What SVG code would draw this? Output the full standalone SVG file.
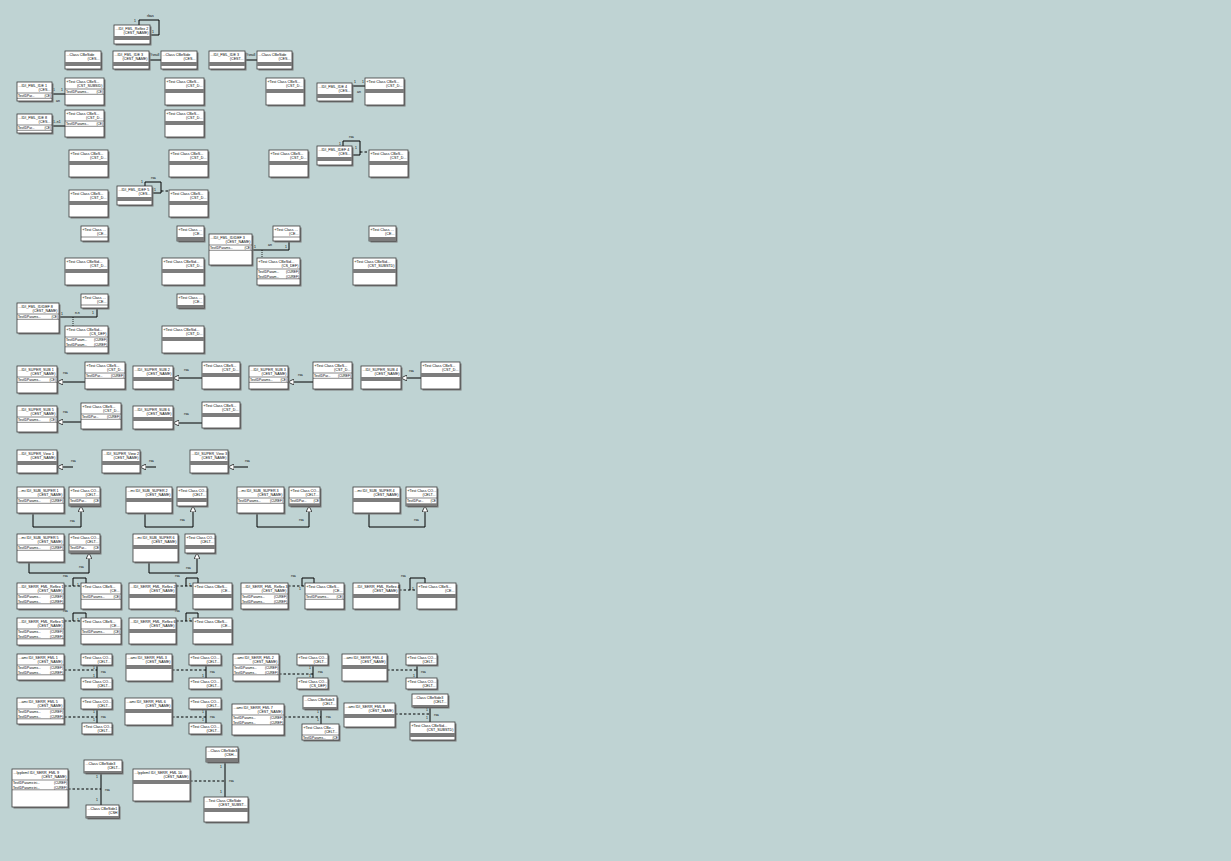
<svg xmlns="http://www.w3.org/2000/svg" width="1231" height="861" viewBox="0 0 1231 861">
<style>
.sh{fill:#7a7a7a}
.bx{fill:#fff;stroke:#3a3a3a;stroke-width:0.8}
.band{fill:#7d7d7d}
.sep{stroke:#3a3a3a;stroke-width:0.6}
.t{font-family:"Liberation Sans",Arial,sans-serif;font-size:3.7px;fill:#000}
.a{font-size:3.2px}
.r{text-anchor:end}
.c{fill:none;stroke:#000;stroke-width:1}
.d{fill:none;stroke:#000;stroke-width:1;stroke-dasharray:2.5,2}
.dt{fill:none;stroke:#000;stroke-width:0.8;stroke-dasharray:1,1}
.l{font-family:"Liberation Sans",Arial,sans-serif;font-size:3.4px;fill:#000}
</style>
<defs>
<marker id="tri" viewBox="0 0 10 10" refX="10" refY="5" markerWidth="6" markerHeight="6" orient="auto" markerUnits="userSpaceOnUse"><path d="M0,0 L10,5 L0,10 z" fill="#fff" stroke="#000" stroke-width="1.2"/></marker>
</defs>
<rect width="1231" height="861" fill="#bfd3d3"/>

<g id="connectors">
<path class="c" d="M139,25 V20 H159 V35 H150"/>
<text class="l" x="147" y="17">rbas</text><text class="l" x="134" y="22">1</text><text class="l" x="152" y="33">1</text>
<path class="c" d="M149,60 H161"/><text class="l" x="150" y="56">Ysnull</text>
<path class="c" d="M245,60 H257"/><text class="l" x="246" y="56">Ysnull</text>
<path class="c" d="M52,94 H65"/><text class="l" x="53" y="91">1</text><text class="l" x="61" y="91">1</text><text class="l" x="56" y="102">an</text>
<path class="c" d="M352,86 H365"/><text class="l" x="354" y="83">1</text><text class="l" x="362" y="83">1</text><text class="l" x="357" y="93">an</text>
<path class="c" d="M52,126 H65"/><text class="l" x="53" y="123">1..n1</text>
<path class="c" d="M343,146 V141 H360 V155 H352"/><path class="d" d="M360,152 H369"/><text class="l" x="349" y="138">rsa</text><text class="l" x="339" y="145">1</text><text class="l" x="355" y="149">1</text>
<path class="c" d="M145,186 V182 H161 V193 H152"/><path class="d" d="M161,191 H169"/><text class="l" x="151" y="179">rsa</text><text class="l" x="141" y="183">1</text><text class="l" x="154" y="191">1</text>
<path class="c" d="M252,250 H289 V241"/><path class="dt" d="M262,250 V258"/><text class="l" x="268" y="246">an</text><text class="l" x="254" y="248">1</text><text class="l" x="285" y="248">1</text>
<path class="c" d="M59,317 H97 V308"/><path class="dt" d="M73,317 V326"/><text class="l" x="75" y="314">n.n</text><text class="l" x="61" y="315">1</text><text class="l" x="92" y="314">1</text>
<path class="c" d="M85,382 H57" marker-end="url(#tri)"/><text class="l" x="63" y="374">rsa</text>
<path class="c" d="M202,378 H173" marker-end="url(#tri)"/><text class="l" x="184" y="371">rsa</text>
<path class="c" d="M313,382 H288" marker-end="url(#tri)"/><text class="l" x="298" y="376">rsa</text>
<path class="c" d="M421,378 H401" marker-end="url(#tri)"/><text class="l" x="409" y="372">rsa</text>
<path class="c" d="M81,422 H57" marker-end="url(#tri)"/><text class="l" x="63" y="413">rsa</text>
<path class="c" d="M202,423 H173" marker-end="url(#tri)"/><text class="l" x="184" y="415">rsa</text>
<path class="c" d="M73,467 H57" marker-end="url(#tri)"/><text class="l" x="71" y="462">rsa</text>
<path class="c" d="M156,467 H140" marker-end="url(#tri)"/><text class="l" x="149" y="462">rsa</text>
<path class="c" d="M248,467 H228" marker-end="url(#tri)"/><text class="l" x="245" y="462">rsa</text>
<path class="c" d="M33,513 V527 H81 V506" marker-end="url(#tri)"/><text class="l" x="70" y="522">rsa</text>
<path class="c" d="M145,513 V527 H193 V506" marker-end="url(#tri)"/><text class="l" x="180" y="521">rsa</text>
<path class="c" d="M257,513 V527 H309 V506" marker-end="url(#tri)"/><text class="l" x="299" y="521">rsa</text>
<path class="c" d="M369,513 V527 H425 V506" marker-end="url(#tri)"/><text class="l" x="414" y="521">rsa</text>
<path class="c" d="M29,562 V573 H89 V553" marker-end="url(#tri)"/><text class="l" x="79" y="568">rsa</text>
<path class="c" d="M149,562 V573 H197 V553" marker-end="url(#tri)"/><text class="l" x="186" y="569">rsa</text>
<path class="d" d="M64,586 H81"/><path class="c" d="M73,586 V578 H86 V583"/><text class="l" x="63" y="577">rsa</text><text class="l" x="77" y="586">1</text>
<path class="d" d="M176,586 H193"/><path class="c" d="M186,586 V578 H198 V583"/><text class="l" x="175" y="577">rsa</text><text class="l" x="189" y="586">1</text>
<path class="d" d="M288,586 H305"/><path class="c" d="M302,586 V578 H314 V583"/><text class="l" x="291" y="577">rsa</text><text class="l" x="299" y="590">1</text>
<path class="d" d="M399,590 H417"/><path class="c" d="M410,590 V578 H425 V583"/><text class="l" x="401" y="577">rsa</text><text class="l" x="412" y="590">1</text>
<path class="d" d="M64,621 H81"/><path class="c" d="M73,621 V613 H86 V618"/><text class="l" x="63" y="612">rsa</text><text class="l" x="77" y="621">1</text>
<path class="d" d="M176,621 H193"/><path class="c" d="M186,621 V613 H198 V618"/><text class="l" x="175" y="612">rsa</text><text class="l" x="189" y="621">1</text>
<path class="d" d="M64,670 H97"/><path class="c" d="M97,665 V678"/><text class="l" x="101" y="673">rsa</text><text class="l" x="93" y="669">1</text><text class="l" x="93" y="677">1</text>
<path class="d" d="M172,670 H206"/><path class="c" d="M206,665 V678"/><text class="l" x="210" y="673">rsa</text><text class="l" x="202" y="677">1</text>
<path class="d" d="M279,674 H313"/><path class="c" d="M313,665 V678"/><text class="l" x="318" y="673">rsa</text><text class="l" x="309" y="669">1</text><text class="l" x="309" y="677">1</text>
<path class="d" d="M387,670 H417"/><path class="c" d="M417,665 V678"/><text class="l" x="421" y="673">rsa</text><text class="l" x="413" y="677">1</text>
<path class="d" d="M64,717 H97"/><path class="c" d="M97,709 V723"/><text class="l" x="101" y="718">rsa</text><text class="l" x="93" y="713">1</text><text class="l" x="93" y="721">1</text>
<path class="d" d="M172,717 H206"/><path class="c" d="M206,709 V723"/><text class="l" x="210" y="718">rsa</text><text class="l" x="202" y="713">1</text><text class="l" x="202" y="721">1</text>
<path class="d" d="M284,717 H321"/><path class="c" d="M321,709 V724"/><text class="l" x="326" y="718">rsa</text><text class="l" x="317" y="713">1</text><text class="l" x="317" y="721">1</text>
<path class="d" d="M395,714 H430"/><path class="c" d="M430,707 V722"/><text class="l" x="434" y="716">rsa</text><text class="l" x="426" y="711">1</text><text class="l" x="426" y="719">1</text>
<path class="d" d="M68,789 H101"/><path class="c" d="M101,773 V805"/><text class="l" x="105" y="791">rsa</text><text class="l" x="96" y="778">1</text><text class="l" x="96" y="801">1</text>
<path class="d" d="M190,781 H225"/><path class="c" d="M225,762 V797"/><text class="l" x="229" y="782">rsa</text><text class="l" x="220" y="768">1</text><text class="l" x="220" y="793">1</text>
</g>

<g id="n_reflex2" transform="translate(114,25)"><rect class="sh" x="1.5" y="1.5" width="36" height="19"/><rect class="bx" width="36" height="19"/><text class="t" x="1.5" y="4.5">...IDI_FML_Reflex 2</text><text class="t r" x="34.5" y="9.2">(CEST_NAME)</text><rect class="band" y="11" width="36" height="4"/></g>
<g id="n_cs1" transform="translate(65,51)"><rect class="sh" x="1.5" y="1.5" width="36" height="18"/><rect class="bx" width="36" height="18"/><text class="t" x="1.5" y="4.5">...Class CBeSide</text><text class="t r" x="34.5" y="9.2">(CES...</text><rect class="band" y="11" width="36" height="4"/></g>
<g id="n_ide3a" transform="translate(113,51)"><rect class="sh" x="1.5" y="1.5" width="36" height="18"/><rect class="bx" width="36" height="18"/><text class="t" x="1.5" y="4.5">...IDI_FML_IDE 3</text><text class="t r" x="34.5" y="9.2">(CEST_NAME)</text><rect class="band" y="11" width="36" height="4"/></g>
<g id="n_cs2" transform="translate(161,51)"><rect class="sh" x="1.5" y="1.5" width="36" height="18"/><rect class="bx" width="36" height="18"/><text class="t" x="1.5" y="4.5">...Class CBeSide</text><text class="t r" x="34.5" y="9.2">(CES...</text><rect class="band" y="11" width="36" height="4"/></g>
<g id="n_ide3b" transform="translate(209,51)"><rect class="sh" x="1.5" y="1.5" width="36" height="18"/><rect class="bx" width="36" height="18"/><text class="t" x="1.5" y="4.5">...IDI_FML_IDE 3</text><text class="t r" x="34.5" y="9.2">(CEST...</text><rect class="band" y="11" width="36" height="4"/></g>
<g id="n_cs3" transform="translate(257,51)"><rect class="sh" x="1.5" y="1.5" width="35" height="18"/><rect class="bx" width="35" height="18"/><text class="t" x="1.5" y="4.5">...Class CBeSide</text><text class="t r" x="33.5" y="9.2">(CES...</text><rect class="band" y="11" width="35" height="4"/></g>

<g id="n_ide1" transform="translate(17,82)"><rect class="sh" x="1.5" y="1.5" width="35" height="19"/><rect class="bx" width="35" height="19"/><text class="t" x="1.5" y="4.5">...IDI_FML_IDE 1</text><text class="t r" x="33.5" y="9.2">(CES...</text><line class="sep" x1="0" y1="11" x2="35" y2="11"/><text class="t a" x="1" y="15">TestIDPar...</text><text class="t a r" x="34" y="15">(CE)</text><line class="sep" x1="0" y1="16.3" x2="35" y2="16.3"/></g>
<g id="n_tc1" transform="translate(65,78)"><rect class="sh" x="1.5" y="1.5" width="39" height="27"/><rect class="bx" width="39" height="27"/><text class="t" x="1.5" y="4.5">«Test Class CBeS...</text><text class="t r" x="37.5" y="9.2">(CST_SUBSID)</text><line class="sep" x1="0" y1="11" x2="39" y2="11"/><text class="t a" x="1" y="15">TestIDParams...</text><text class="t a r" x="38" y="15">(CE)</text><line class="sep" x1="0" y1="16.3" x2="39" y2="16.3"/></g>
<g id="n_tc2" transform="translate(165,78)"><rect class="sh" x="1.5" y="1.5" width="39" height="27"/><rect class="bx" width="39" height="27"/><text class="t" x="1.5" y="4.5">«Test Class CBeS...</text><text class="t r" x="37.5" y="9.2">(CST_D...</text><rect class="band" y="11" width="39" height="4"/></g>
<g id="n_tc3" transform="translate(266,78)"><rect class="sh" x="1.5" y="1.5" width="38" height="27"/><rect class="bx" width="38" height="27"/><text class="t" x="1.5" y="4.5">«Test Class CBeS...</text><text class="t r" x="36.5" y="9.2">(CST_D...</text><rect class="band" y="11" width="38" height="4"/></g>
<g id="n_ide4" transform="translate(317,83)"><rect class="sh" x="1.5" y="1.5" width="35" height="18"/><rect class="bx" width="35" height="18"/><text class="t" x="1.5" y="4.5">...IDI_FML_IDE 4</text><text class="t r" x="33.5" y="9.2">(CES...</text><rect class="band" y="11" width="35" height="4"/></g>
<g id="n_tc4" transform="translate(365,78)"><rect class="sh" x="1.5" y="1.5" width="39" height="27"/><rect class="bx" width="39" height="27"/><text class="t" x="1.5" y="4.5">«Test Class CBeS...</text><text class="t r" x="37.5" y="9.2">(CST_D...</text><rect class="band" y="11" width="39" height="4"/></g>

<g id="n_ide8" transform="translate(17,114)"><rect class="sh" x="1.5" y="1.5" width="35" height="19"/><rect class="bx" width="35" height="19"/><text class="t" x="1.5" y="4.5">...IDI_FML_IDE 8</text><text class="t r" x="33.5" y="9.2">(CES...</text><line class="sep" x1="0" y1="11" x2="35" y2="11"/><text class="t a" x="1" y="15">TestIDPar...</text><text class="t a r" x="34" y="15">(CE)</text><line class="sep" x1="0" y1="16.3" x2="35" y2="16.3"/></g>
<g id="n_tc5" transform="translate(65,110)"><rect class="sh" x="1.5" y="1.5" width="39" height="27"/><rect class="bx" width="39" height="27"/><text class="t" x="1.5" y="4.5">«Test Class CBeS...</text><text class="t r" x="37.5" y="9.2">(CST_D...</text><line class="sep" x1="0" y1="11" x2="39" y2="11"/><text class="t a" x="1" y="15">TestIDParams...</text><text class="t a r" x="38" y="15">(CE)</text><line class="sep" x1="0" y1="16.3" x2="39" y2="16.3"/></g>
<g id="n_tc6" transform="translate(165,110)"><rect class="sh" x="1.5" y="1.5" width="39" height="27"/><rect class="bx" width="39" height="27"/><text class="t" x="1.5" y="4.5">«Test Class CBeS...</text><text class="t r" x="37.5" y="9.2">(CST_D...</text><rect class="band" y="11" width="39" height="4"/></g>

<g id="n_tc7" transform="translate(69,150)"><rect class="sh" x="1.5" y="1.5" width="39" height="27"/><rect class="bx" width="39" height="27"/><text class="t" x="1.5" y="4.5">«Test Class CBeS...</text><text class="t r" x="37.5" y="9.2">(CST_D...</text><rect class="band" y="11" width="39" height="4"/></g>
<g id="n_tc8" transform="translate(169,150)"><rect class="sh" x="1.5" y="1.5" width="39" height="27"/><rect class="bx" width="39" height="27"/><text class="t" x="1.5" y="4.5">«Test Class CBeS...</text><text class="t r" x="37.5" y="9.2">(CST_D...</text><rect class="band" y="11" width="39" height="4"/></g>
<g id="n_tc9" transform="translate(269,150)"><rect class="sh" x="1.5" y="1.5" width="39" height="27"/><rect class="bx" width="39" height="27"/><text class="t" x="1.5" y="4.5">«Test Class CBeS...</text><text class="t r" x="37.5" y="9.2">(CST_D...</text><rect class="band" y="11" width="39" height="4"/></g>
<g id="n_reflex4" transform="translate(317,146)"><rect class="sh" x="1.5" y="1.5" width="35" height="19"/><rect class="bx" width="35" height="19"/><text class="t" x="1.5" y="4.5">...IDI_FML_IDEF 4</text><text class="t r" x="33.5" y="9.2">(CES...</text><rect class="band" y="11" width="35" height="4"/></g>
<g id="n_tc10" transform="translate(369,150)"><rect class="sh" x="1.5" y="1.5" width="39" height="27"/><rect class="bx" width="39" height="27"/><text class="t" x="1.5" y="4.5">«Test Class CBeS...</text><text class="t r" x="37.5" y="9.2">(CST_D...</text><rect class="band" y="11" width="39" height="4"/></g>

<g id="n_tc11" transform="translate(69,190)"><rect class="sh" x="1.5" y="1.5" width="39" height="27"/><rect class="bx" width="39" height="27"/><text class="t" x="1.5" y="4.5">«Test Class CBeS...</text><text class="t r" x="37.5" y="9.2">(CST_D...</text><rect class="band" y="11" width="39" height="4"/></g>
<g id="n_reflex5" transform="translate(117,186)"><rect class="sh" x="1.5" y="1.5" width="35" height="19"/><rect class="bx" width="35" height="19"/><text class="t" x="1.5" y="4.5">...IDI_FML_IDEF 5</text><text class="t r" x="33.5" y="9.2">(CES...</text><rect class="band" y="11" width="35" height="4"/></g>
<g id="n_tc12" transform="translate(169,190)"><rect class="sh" x="1.5" y="1.5" width="39" height="27"/><rect class="bx" width="39" height="27"/><text class="t" x="1.5" y="4.5">«Test Class CBeS...</text><text class="t r" x="37.5" y="9.2">(CST_D...</text><rect class="band" y="11" width="39" height="4"/></g>

<g id="n_s1" transform="translate(81,226)"><rect class="sh" x="1.5" y="1.5" width="27" height="15"/><rect class="bx" width="27" height="15"/><text class="t" x="1.5" y="4.5">«Test Class ...</text><text class="t r" x="25.5" y="9.2">(CE...</text><line class="sep" x1="0" y1="11" x2="27" y2="11"/></g>
<g id="n_s2" transform="translate(177,226)"><rect class="sh" x="1.5" y="1.5" width="27" height="15"/><rect class="bx" width="27" height="15"/><text class="t" x="1.5" y="4.5">«Test Class ...</text><text class="t r" x="25.5" y="9.2">(CE...</text><rect class="band" y="11" width="27" height="4"/></g>
<g id="n_s3" transform="translate(273,226)"><rect class="sh" x="1.5" y="1.5" width="27" height="15"/><rect class="bx" width="27" height="15"/><text class="t" x="1.5" y="4.5">«Test Class ...</text><text class="t r" x="25.5" y="9.2">(CE...</text><line class="sep" x1="0" y1="11" x2="27" y2="11"/></g>
<g id="n_s4" transform="translate(369,226)"><rect class="sh" x="1.5" y="1.5" width="27" height="15"/><rect class="bx" width="27" height="15"/><text class="t" x="1.5" y="4.5">«Test Class ...</text><text class="t r" x="25.5" y="9.2">(CE...</text><rect class="band" y="11" width="27" height="4"/></g>
<g id="n_idef3" transform="translate(209,234)"><rect class="sh" x="1.5" y="1.5" width="43" height="31"/><rect class="bx" width="43" height="31"/><text class="t" x="1.5" y="4.5">...IDI_FML_IDIDEF 3</text><text class="t r" x="41.5" y="9.2">(CEST_NAME)</text><line class="sep" x1="0" y1="11" x2="43" y2="11"/><text class="t a" x="1" y="15">TestIDParams...</text><text class="t a r" x="42" y="15">(CE)</text><line class="sep" x1="0" y1="16.3" x2="43" y2="16.3"/></g>

<g id="n_tc13" transform="translate(65,258)"><rect class="sh" x="1.5" y="1.5" width="43" height="27"/><rect class="bx" width="43" height="27"/><text class="t" x="1.5" y="4.5">«Test Class CBeSid...</text><text class="t r" x="41.5" y="9.2">(CST_D...</text><rect class="band" y="11" width="43" height="4"/></g>
<g id="n_tc14" transform="translate(162,258)"><rect class="sh" x="1.5" y="1.5" width="42" height="27"/><rect class="bx" width="42" height="27"/><text class="t" x="1.5" y="4.5">«Test Class CBeSid...</text><text class="t r" x="40.5" y="9.2">(CST_D...</text><rect class="band" y="11" width="42" height="4"/></g>
<g id="n_tc15" transform="translate(257,258)"><rect class="sh" x="1.5" y="1.5" width="43" height="27"/><rect class="bx" width="43" height="27"/><text class="t" x="1.5" y="4.5">«Test Class CBeSid...</text><text class="t r" x="41.5" y="9.2">(CS_DEF)</text><line class="sep" x1="0" y1="11" x2="43" y2="11"/><text class="t a" x="1" y="15">TestIDParam...</text><text class="t a r" x="42" y="15">(CUREF)</text><text class="t a" x="1" y="19.5">TestIDParam...</text><text class="t a r" x="42" y="19.5">(CUREF)</text><line class="sep" x1="0" y1="20.8" x2="43" y2="20.8"/></g>
<g id="n_tc16" transform="translate(353,258)"><rect class="sh" x="1.5" y="1.5" width="43" height="27"/><rect class="bx" width="43" height="27"/><text class="t" x="1.5" y="4.5">«Test Class CBeSid...</text><text class="t r" x="41.5" y="9.2">(CST_SUBSTD)</text><rect class="band" y="11" width="43" height="4"/></g>

<g id="n_s5" transform="translate(81,294)"><rect class="sh" x="1.5" y="1.5" width="27" height="14"/><rect class="bx" width="27" height="14"/><text class="t" x="1.5" y="4.5">«Test Class ...</text><text class="t r" x="25.5" y="9.2">(CE...</text><line class="sep" x1="0" y1="11" x2="27" y2="11"/></g>
<g id="n_s6" transform="translate(177,294)"><rect class="sh" x="1.5" y="1.5" width="27" height="14"/><rect class="bx" width="27" height="14"/><text class="t" x="1.5" y="4.5">«Test Class ...</text><text class="t r" x="25.5" y="9.2">(CE...</text><rect class="band" y="11" width="27" height="3"/></g>
<g id="n_idef8" transform="translate(17,303)"><rect class="sh" x="1.5" y="1.5" width="42" height="30"/><rect class="bx" width="42" height="30"/><text class="t" x="1.5" y="4.5">...IDI_FML_IDIDEF 8</text><text class="t r" x="40.5" y="9.2">(CEST_NAME)</text><line class="sep" x1="0" y1="11" x2="42" y2="11"/><text class="t a" x="1" y="15">TestIDParams...</text><text class="t a r" x="41" y="15">(CE)</text><line class="sep" x1="0" y1="16.3" x2="42" y2="16.3"/></g>
<g id="n_tc17" transform="translate(65,326)"><rect class="sh" x="1.5" y="1.5" width="43" height="27"/><rect class="bx" width="43" height="27"/><text class="t" x="1.5" y="4.5">«Test Class CBeSid...</text><text class="t r" x="41.5" y="9.2">(CS_DEF)</text><line class="sep" x1="0" y1="11" x2="43" y2="11"/><text class="t a" x="1" y="15">TestIDParam...</text><text class="t a r" x="42" y="15">(CUREF)</text><text class="t a" x="1" y="19.5">TestIDParam...</text><text class="t a r" x="42" y="19.5">(CUREF)</text><line class="sep" x1="0" y1="20.8" x2="43" y2="20.8"/></g>
<g id="n_tc18" transform="translate(162,326)"><rect class="sh" x="1.5" y="1.5" width="42" height="27"/><rect class="bx" width="42" height="27"/><text class="t" x="1.5" y="4.5">«Test Class CBeSid...</text><text class="t r" x="40.5" y="9.2">(CST_D...</text><rect class="band" y="11" width="42" height="4"/></g>

<g id="n_sub1" transform="translate(17,366)"><rect class="sh" x="1.5" y="1.5" width="40" height="27"/><rect class="bx" width="40" height="27"/><text class="t" x="1.5" y="4.5">...IDI_SUPER_SUB 1</text><text class="t r" x="38.5" y="9.2">(CEST_NAME)</text><line class="sep" x1="0" y1="11" x2="40" y2="11"/><text class="t a" x="1" y="15">TestIDParams...</text><text class="t a r" x="39" y="15">(CE)</text><line class="sep" x1="0" y1="16.3" x2="40" y2="16.3"/></g>
<g id="n_tcs1" transform="translate(85,362)"><rect class="sh" x="1.5" y="1.5" width="40" height="27"/><rect class="bx" width="40" height="27"/><text class="t" x="1.5" y="4.5">«Test Class CBeS...</text><text class="t r" x="38.5" y="9.2">(CST_D...</text><line class="sep" x1="0" y1="11" x2="40" y2="11"/><text class="t a" x="1" y="15">TestIDPar...</text><text class="t a r" x="39" y="15">(CUREF)</text><line class="sep" x1="0" y1="16.3" x2="40" y2="16.3"/></g>
<g id="n_sub2" transform="translate(133,366)"><rect class="sh" x="1.5" y="1.5" width="40" height="23"/><rect class="bx" width="40" height="23"/><text class="t" x="1.5" y="4.5">...IDI_SUPER_SUB 2</text><text class="t r" x="38.5" y="9.2">(CEST_NAME)</text><rect class="band" y="11" width="40" height="4"/></g>
<g id="n_tcs2" transform="translate(202,362)"><rect class="sh" x="1.5" y="1.5" width="38" height="27"/><rect class="bx" width="38" height="27"/><text class="t" x="1.5" y="4.5">«Test Class CBeS...</text><text class="t r" x="36.5" y="9.2">(CST_D...</text><rect class="band" y="11" width="38" height="4"/></g>
<g id="n_sub3" transform="translate(249,366)"><rect class="sh" x="1.5" y="1.5" width="39" height="23"/><rect class="bx" width="39" height="23"/><text class="t" x="1.5" y="4.5">...IDI_SUPER_SUB 3</text><text class="t r" x="37.5" y="9.2">(CEST_NAME)</text><line class="sep" x1="0" y1="11" x2="39" y2="11"/><text class="t a" x="1" y="15">TestIDParams...</text><text class="t a r" x="38" y="15">(CE)</text><line class="sep" x1="0" y1="16.3" x2="39" y2="16.3"/></g>
<g id="n_tcs3" transform="translate(313,362)"><rect class="sh" x="1.5" y="1.5" width="39" height="27"/><rect class="bx" width="39" height="27"/><text class="t" x="1.5" y="4.5">«Test Class CBeS...</text><text class="t r" x="37.5" y="9.2">(CST_D...</text><line class="sep" x1="0" y1="11" x2="39" y2="11"/><text class="t a" x="1" y="15">TestIDPar...</text><text class="t a r" x="38" y="15">(CUREF)</text><line class="sep" x1="0" y1="16.3" x2="39" y2="16.3"/></g>
<g id="n_sub4" transform="translate(361,366)"><rect class="sh" x="1.5" y="1.5" width="40" height="23"/><rect class="bx" width="40" height="23"/><text class="t" x="1.5" y="4.5">...IDI_SUPER_SUB 4</text><text class="t r" x="38.5" y="9.2">(CEST_NAME)</text><rect class="band" y="11" width="40" height="4"/></g>
<g id="n_tcs4" transform="translate(421,362)"><rect class="sh" x="1.5" y="1.5" width="39" height="27"/><rect class="bx" width="39" height="27"/><text class="t" x="1.5" y="4.5">«Test Class CBeS...</text><text class="t r" x="37.5" y="9.2">(CST_D...</text><rect class="band" y="11" width="39" height="4"/></g>
<g id="n_sub5" transform="translate(17,406)"><rect class="sh" x="1.5" y="1.5" width="40" height="26"/><rect class="bx" width="40" height="26"/><text class="t" x="1.5" y="4.5">...IDI_SUPER_SUB 5</text><text class="t r" x="38.5" y="9.2">(CEST_NAME)</text><line class="sep" x1="0" y1="11" x2="40" y2="11"/><text class="t a" x="1" y="15">TestIDParams...</text><text class="t a r" x="39" y="15">(CE)</text><line class="sep" x1="0" y1="16.3" x2="40" y2="16.3"/></g>
<g id="n_tcs5" transform="translate(81,403)"><rect class="sh" x="1.5" y="1.5" width="40" height="26"/><rect class="bx" width="40" height="26"/><text class="t" x="1.5" y="4.5">«Test Class CBeS...</text><text class="t r" x="38.5" y="9.2">(CST_D...</text><line class="sep" x1="0" y1="11" x2="40" y2="11"/><text class="t a" x="1" y="15">TestIDPar...</text><text class="t a r" x="39" y="15">(CUREF)</text><line class="sep" x1="0" y1="16.3" x2="40" y2="16.3"/></g>
<g id="n_sub6" transform="translate(133,406)"><rect class="sh" x="1.5" y="1.5" width="40" height="23"/><rect class="bx" width="40" height="23"/><text class="t" x="1.5" y="4.5">...IDI_SUPER_SUB 6</text><text class="t r" x="38.5" y="9.2">(CEST_NAME)</text><rect class="band" y="11" width="40" height="4"/></g>
<g id="n_tcs6" transform="translate(202,402)"><rect class="sh" x="1.5" y="1.5" width="38" height="26"/><rect class="bx" width="38" height="26"/><text class="t" x="1.5" y="4.5">«Test Class CBeS...</text><text class="t r" x="36.5" y="9.2">(CST_D...</text><rect class="band" y="11" width="38" height="4"/></g>

<g id="n_view1" transform="translate(17,450)"><rect class="sh" x="1.5" y="1.5" width="40" height="23"/><rect class="bx" width="40" height="23"/><text class="t" x="1.5" y="4.5">...IDI_SUPER_View 1</text><text class="t r" x="38.5" y="9.2">(CEST_NAME)</text><rect class="band" y="11" width="40" height="4"/></g>
<g id="n_view2" transform="translate(102,450)"><rect class="sh" x="1.5" y="1.5" width="38" height="23"/><rect class="bx" width="38" height="23"/><text class="t" x="1.5" y="4.5">...IDI_SUPER_View 2</text><text class="t r" x="36.5" y="9.2">(CEST_NAME)</text><rect class="band" y="11" width="38" height="4"/></g>
<g id="n_view3" transform="translate(190,450)"><rect class="sh" x="1.5" y="1.5" width="38" height="23"/><rect class="bx" width="38" height="23"/><text class="t" x="1.5" y="4.5">...IDI_SUPER_View 3</text><text class="t r" x="36.5" y="9.2">(CEST_NAME)</text><rect class="band" y="11" width="38" height="4"/></g>

<g id="n_ss1" transform="translate(17,487)"><rect class="sh" x="1.5" y="1.5" width="47" height="26"/><rect class="bx" width="47" height="26"/><text class="t" x="1.5" y="4.5">...mi IDI_SUB_SUPER 1</text><text class="t r" x="45.5" y="9.2">(CEST_NAME)</text><line class="sep" x1="0" y1="11" x2="47" y2="11"/><text class="t a" x="1" y="15">TestIDParams...</text><text class="t a r" x="46" y="15">(CUREF)</text><line class="sep" x1="0" y1="16.3" x2="47" y2="16.3"/></g>
<g id="n_ssc1" transform="translate(69,487)"><rect class="sh" x="1.5" y="1.5" width="31" height="19"/><rect class="bx" width="31" height="19"/><text class="t" x="1.5" y="4.5">«Test Class CO...</text><text class="t r" x="29.5" y="9.2">(CELT...</text><line class="sep" x1="0" y1="11" x2="31" y2="11"/><text class="t a" x="1" y="15">TestIDPar...</text><text class="t a r" x="30" y="15">(CE</text><rect class="band" y="16.3" width="31" height="2.7"/></g>
<g id="n_ss2" transform="translate(126,487)"><rect class="sh" x="1.5" y="1.5" width="46" height="26"/><rect class="bx" width="46" height="26"/><text class="t" x="1.5" y="4.5">...mi IDI_SUB_SUPER 2</text><text class="t r" x="44.5" y="9.2">(CEST_NAME)</text><rect class="band" y="11" width="46" height="4"/></g>
<g id="n_ssc2" transform="translate(177,487)"><rect class="sh" x="1.5" y="1.5" width="30" height="19"/><rect class="bx" width="30" height="19"/><text class="t" x="1.5" y="4.5">«Test Class CO...</text><text class="t r" x="28.5" y="9.2">(CELT...</text><rect class="band" y="11" width="30" height="4"/></g>
<g id="n_ss3" transform="translate(237,487)"><rect class="sh" x="1.5" y="1.5" width="47" height="26"/><rect class="bx" width="47" height="26"/><text class="t" x="1.5" y="4.5">...mi IDI_SUB_SUPER 3</text><text class="t r" x="45.5" y="9.2">(CEST_NAME)</text><line class="sep" x1="0" y1="11" x2="47" y2="11"/><text class="t a" x="1" y="15">TestIDParams...</text><text class="t a r" x="46" y="15">(CUREF)</text><line class="sep" x1="0" y1="16.3" x2="47" y2="16.3"/></g>
<g id="n_ssc3" transform="translate(289,487)"><rect class="sh" x="1.5" y="1.5" width="31" height="19"/><rect class="bx" width="31" height="19"/><text class="t" x="1.5" y="4.5">«Test Class CO...</text><text class="t r" x="29.5" y="9.2">(CELT...</text><line class="sep" x1="0" y1="11" x2="31" y2="11"/><text class="t a" x="1" y="15">TestIDPar...</text><text class="t a r" x="30" y="15">(CE</text><rect class="band" y="16.3" width="31" height="2.7"/></g>
<g id="n_ss4" transform="translate(353,487)"><rect class="sh" x="1.5" y="1.5" width="47" height="26"/><rect class="bx" width="47" height="26"/><text class="t" x="1.5" y="4.5">...mi IDI_SUB_SUPER 4</text><text class="t r" x="45.5" y="9.2">(CEST_NAME)</text><rect class="band" y="11" width="47" height="4"/></g>
<g id="n_ssc4" transform="translate(406,487)"><rect class="sh" x="1.5" y="1.5" width="31" height="19"/><rect class="bx" width="31" height="19"/><text class="t" x="1.5" y="4.5">«Test Class CO...</text><text class="t r" x="29.5" y="9.2">(CELT...</text><line class="sep" x1="0" y1="11" x2="31" y2="11"/><text class="t a" x="1" y="15">TestIDPar...</text><text class="t a r" x="30" y="15">(CE</text><rect class="band" y="16.3" width="31" height="2.7"/></g>
<g id="n_ss5" transform="translate(17,534)"><rect class="sh" x="1.5" y="1.5" width="47" height="28"/><rect class="bx" width="47" height="28"/><text class="t" x="1.5" y="4.5">...mi IDI_SUB_SUPER 5</text><text class="t r" x="45.5" y="9.2">(CEST_NAME)</text><line class="sep" x1="0" y1="11" x2="47" y2="11"/><text class="t a" x="1" y="15">TestIDParams...</text><text class="t a r" x="46" y="15">(CUREF)</text><line class="sep" x1="0" y1="16.3" x2="47" y2="16.3"/></g>
<g id="n_ssc5" transform="translate(69,534)"><rect class="sh" x="1.5" y="1.5" width="31" height="19"/><rect class="bx" width="31" height="19"/><text class="t" x="1.5" y="4.5">«Test Class CO...</text><text class="t r" x="29.5" y="9.2">(CELT...</text><line class="sep" x1="0" y1="11" x2="31" y2="11"/><text class="t a" x="1" y="15">TestIDPar...</text><text class="t a r" x="30" y="15">(CE</text><rect class="band" y="16.3" width="31" height="2.7"/></g>
<g id="n_ss6" transform="translate(133,534)"><rect class="sh" x="1.5" y="1.5" width="45" height="28"/><rect class="bx" width="45" height="28"/><text class="t" x="1.5" y="4.5">...mi IDI_SUB_SUPER 6</text><text class="t r" x="43.5" y="9.2">(CEST_NAME)</text><rect class="band" y="11" width="45" height="4"/></g>
<g id="n_ssc6" transform="translate(185,534)"><rect class="sh" x="1.5" y="1.5" width="30" height="19"/><rect class="bx" width="30" height="19"/><text class="t" x="1.5" y="4.5">«Test Class CO...</text><text class="t r" x="28.5" y="9.2">(CELT...</text><rect class="band" y="11" width="30" height="4"/></g>

<g id="n_r1" transform="translate(17,583)"><rect class="sh" x="1.5" y="1.5" width="47" height="26"/><rect class="bx" width="47" height="26"/><text class="t" x="1.5" y="4.5">...IDI_SERR_FML_Reflex 1</text><text class="t r" x="45.5" y="9.2">(CEST_NAME)</text><line class="sep" x1="0" y1="11" x2="47" y2="11"/><text class="t a" x="1" y="15">TestIDParams...</text><text class="t a r" x="46" y="15">(CUREF)</text><text class="t a" x="1" y="19.5">TestIDParams...</text><text class="t a r" x="46" y="19.5">(CUREF)</text><line class="sep" x1="0" y1="20.8" x2="47" y2="20.8"/></g>
<g id="n_rc1" transform="translate(81,583)"><rect class="sh" x="1.5" y="1.5" width="40" height="26"/><rect class="bx" width="40" height="26"/><text class="t" x="1.5" y="4.5">«Test Class CBeS...</text><text class="t r" x="38.5" y="9.2">(CE...</text><line class="sep" x1="0" y1="11" x2="40" y2="11"/><text class="t a" x="1" y="15">TestIDParams...</text><text class="t a r" x="39" y="15">(CE)</text><line class="sep" x1="0" y1="16.3" x2="40" y2="16.3"/></g>
<g id="n_r2" transform="translate(129,583)"><rect class="sh" x="1.5" y="1.5" width="47" height="26"/><rect class="bx" width="47" height="26"/><text class="t" x="1.5" y="4.5">...IDI_SERR_FML_Reflex 2</text><text class="t r" x="45.5" y="9.2">(CEST_NAME)</text><rect class="band" y="11" width="47" height="4"/></g>
<g id="n_rc2" transform="translate(193,583)"><rect class="sh" x="1.5" y="1.5" width="39" height="26"/><rect class="bx" width="39" height="26"/><text class="t" x="1.5" y="4.5">«Test Class CBeS...</text><text class="t r" x="37.5" y="9.2">(CE...</text><rect class="band" y="11" width="39" height="4"/></g>
<g id="n_r3" transform="translate(241,583)"><rect class="sh" x="1.5" y="1.5" width="47" height="26"/><rect class="bx" width="47" height="26"/><text class="t" x="1.5" y="4.5">...IDI_SERR_FML_Reflex 3</text><text class="t r" x="45.5" y="9.2">(CEST_NAME)</text><line class="sep" x1="0" y1="11" x2="47" y2="11"/><text class="t a" x="1" y="15">TestIDParams...</text><text class="t a r" x="46" y="15">(CUREF)</text><text class="t a" x="1" y="19.5">TestIDParams...</text><text class="t a r" x="46" y="19.5">(CUREF)</text><line class="sep" x1="0" y1="20.8" x2="47" y2="20.8"/></g>
<g id="n_rc3" transform="translate(305,583)"><rect class="sh" x="1.5" y="1.5" width="39" height="26"/><rect class="bx" width="39" height="26"/><text class="t" x="1.5" y="4.5">«Test Class CBeS...</text><text class="t r" x="37.5" y="9.2">(CE...</text><line class="sep" x1="0" y1="11" x2="39" y2="11"/><text class="t a" x="1" y="15">TestIDParams...</text><text class="t a r" x="38" y="15">(CE)</text><line class="sep" x1="0" y1="16.3" x2="39" y2="16.3"/></g>
<g id="n_r4" transform="translate(353,583)"><rect class="sh" x="1.5" y="1.5" width="46" height="26"/><rect class="bx" width="46" height="26"/><text class="t" x="1.5" y="4.5">...IDI_SERR_FML_Reflex 4</text><text class="t r" x="44.5" y="9.2">(CEST_NAME)</text><rect class="band" y="11" width="46" height="4"/></g>
<g id="n_rc4" transform="translate(417,583)"><rect class="sh" x="1.5" y="1.5" width="39" height="26"/><rect class="bx" width="39" height="26"/><text class="t" x="1.5" y="4.5">«Test Class CBeS...</text><text class="t r" x="37.5" y="9.2">(CE...</text><rect class="band" y="11" width="39" height="4"/></g>
<g id="n_r5" transform="translate(17,618)"><rect class="sh" x="1.5" y="1.5" width="47" height="27"/><rect class="bx" width="47" height="27"/><text class="t" x="1.5" y="4.5">...IDI_SERR_FML_Reflex 5</text><text class="t r" x="45.5" y="9.2">(CEST_NAME)</text><line class="sep" x1="0" y1="11" x2="47" y2="11"/><text class="t a" x="1" y="15">TestIDParams...</text><text class="t a r" x="46" y="15">(CUREF)</text><text class="t a" x="1" y="19.5">TestIDParams...</text><text class="t a r" x="46" y="19.5">(CUREF)</text><line class="sep" x1="0" y1="20.8" x2="47" y2="20.8"/></g>
<g id="n_rc5" transform="translate(81,618)"><rect class="sh" x="1.5" y="1.5" width="40" height="26"/><rect class="bx" width="40" height="26"/><text class="t" x="1.5" y="4.5">«Test Class CBeS...</text><text class="t r" x="38.5" y="9.2">(CE...</text><line class="sep" x1="0" y1="11" x2="40" y2="11"/><text class="t a" x="1" y="15">TestIDParams...</text><text class="t a r" x="39" y="15">(CE)</text><line class="sep" x1="0" y1="16.3" x2="40" y2="16.3"/></g>
<g id="n_r6" transform="translate(129,618)"><rect class="sh" x="1.5" y="1.5" width="47" height="26"/><rect class="bx" width="47" height="26"/><text class="t" x="1.5" y="4.5">...IDI_SERR_FML_Reflex 6</text><text class="t r" x="45.5" y="9.2">(CEST_NAME)</text><rect class="band" y="11" width="47" height="4"/></g>
<g id="n_rc6" transform="translate(193,618)"><rect class="sh" x="1.5" y="1.5" width="39" height="26"/><rect class="bx" width="39" height="26"/><text class="t" x="1.5" y="4.5">«Test Class CBeS...</text><text class="t r" x="37.5" y="9.2">(CE...</text><rect class="band" y="11" width="39" height="4"/></g>

<g id="n_f1" transform="translate(17,654)"><rect class="sh" x="1.5" y="1.5" width="47" height="26"/><rect class="bx" width="47" height="26"/><text class="t" x="1.5" y="4.5">...ami IDI_SERR_FML 1</text><text class="t r" x="45.5" y="9.2">(CEST_NAME)</text><line class="sep" x1="0" y1="11" x2="47" y2="11"/><text class="t a" x="1" y="15">TestIDParams...</text><text class="t a r" x="46" y="15">(CUREF)</text><text class="t a" x="1" y="19.5">TestIDParams...</text><text class="t a r" x="46" y="19.5">(CUREF)</text><line class="sep" x1="0" y1="20.8" x2="47" y2="20.8"/></g>
<g id="n_fa1" transform="translate(81,654)"><rect class="sh" x="1.5" y="1.5" width="31" height="11"/><rect class="bx" width="31" height="11"/><text class="t" x="1.5" y="4.5">«Test Class CO...</text><text class="t r" x="29.5" y="9.2">(CELT...</text></g>
<g id="n_fb1" transform="translate(81,678)"><rect class="sh" x="1.5" y="1.5" width="31" height="11"/><rect class="bx" width="31" height="11"/><text class="t" x="1.5" y="4.5">«Test Class CO...</text><text class="t r" x="29.5" y="9.2">(CELT...</text></g>
<g id="n_f3" transform="translate(126,654)"><rect class="sh" x="1.5" y="1.5" width="46" height="27"/><rect class="bx" width="46" height="27"/><text class="t" x="1.5" y="4.5">...ami IDI_SERR_FML 3</text><text class="t r" x="44.5" y="9.2">(CEST_NAME)</text><rect class="band" y="11" width="46" height="4"/></g>
<g id="n_fa3" transform="translate(189,654)"><rect class="sh" x="1.5" y="1.5" width="32" height="11"/><rect class="bx" width="32" height="11"/><text class="t" x="1.5" y="4.5">«Test Class CO...</text><text class="t r" x="30.5" y="9.2">(CELT...</text></g>
<g id="n_fb3" transform="translate(189,678)"><rect class="sh" x="1.5" y="1.5" width="32" height="11"/><rect class="bx" width="32" height="11"/><text class="t" x="1.5" y="4.5">«Test Class CO...</text><text class="t r" x="30.5" y="9.2">(CELT...</text></g>
<g id="n_f2" transform="translate(233,654)"><rect class="sh" x="1.5" y="1.5" width="46" height="27"/><rect class="bx" width="46" height="27"/><text class="t" x="1.5" y="4.5">...ami IDI_SERR_FML 2</text><text class="t r" x="44.5" y="9.2">(CEST_NAME)</text><line class="sep" x1="0" y1="11" x2="46" y2="11"/><text class="t a" x="1" y="15">TestIDParams...</text><text class="t a r" x="45" y="15">(CUREF)</text><text class="t a" x="1" y="19.5">TestIDParams...</text><text class="t a r" x="45" y="19.5">(CUREF)</text><line class="sep" x1="0" y1="20.8" x2="46" y2="20.8"/></g>
<g id="n_fa2" transform="translate(297,654)"><rect class="sh" x="1.5" y="1.5" width="31" height="11"/><rect class="bx" width="31" height="11"/><text class="t" x="1.5" y="4.5">«Test Class CO...</text><text class="t r" x="29.5" y="9.2">(CELT...</text></g>
<g id="n_fb2" transform="translate(297,678)"><rect class="sh" x="1.5" y="1.5" width="31" height="11"/><rect class="bx" width="31" height="11"/><text class="t" x="1.5" y="4.5">«Test Class CO...</text><text class="t r" x="29.5" y="9.2">(CS_DEF)</text></g>
<g id="n_f4" transform="translate(342,654)"><rect class="sh" x="1.5" y="1.5" width="45" height="27"/><rect class="bx" width="45" height="27"/><text class="t" x="1.5" y="4.5">...ami IDI_SERR_FML 4</text><text class="t r" x="43.5" y="9.2">(CEST_NAME)</text><rect class="band" y="11" width="45" height="4"/></g>
<g id="n_fa4" transform="translate(406,654)"><rect class="sh" x="1.5" y="1.5" width="31" height="11"/><rect class="bx" width="31" height="11"/><text class="t" x="1.5" y="4.5">«Test Class CO...</text><text class="t r" x="29.5" y="9.2">(CELT...</text></g>
<g id="n_fb4" transform="translate(406,678)"><rect class="sh" x="1.5" y="1.5" width="31" height="11"/><rect class="bx" width="31" height="11"/><text class="t" x="1.5" y="4.5">«Test Class CO...</text><text class="t r" x="29.5" y="9.2">(CELT...</text></g>

<g id="n_f5" transform="translate(17,698)"><rect class="sh" x="1.5" y="1.5" width="47" height="26"/><rect class="bx" width="47" height="26"/><text class="t" x="1.5" y="4.5">...ami IDI_SERR_FML 5</text><text class="t r" x="45.5" y="9.2">(CEST_NAME)</text><line class="sep" x1="0" y1="11" x2="47" y2="11"/><text class="t a" x="1" y="15">TestIDParams...</text><text class="t a r" x="46" y="15">(CUREF)</text><text class="t a" x="1" y="19.5">TestIDParams...</text><text class="t a r" x="46" y="19.5">(CUREF)</text><line class="sep" x1="0" y1="20.8" x2="47" y2="20.8"/></g>
<g id="n_fa5" transform="translate(81,698)"><rect class="sh" x="1.5" y="1.5" width="31" height="11"/><rect class="bx" width="31" height="11"/><text class="t" x="1.5" y="4.5">«Test Class CO...</text><text class="t r" x="29.5" y="9.2">(CELT...</text></g>
<g id="n_fb5" transform="translate(82,723)"><rect class="sh" x="1.5" y="1.5" width="30" height="11"/><rect class="bx" width="30" height="11"/><text class="t" x="1.5" y="4.5">«Test Class CO...</text><text class="t r" x="28.5" y="9.2">(CELT...</text></g>
<g id="n_f6" transform="translate(125,698)"><rect class="sh" x="1.5" y="1.5" width="47" height="27"/><rect class="bx" width="47" height="27"/><text class="t" x="1.5" y="4.5">...ami IDI_SERR_FML 6</text><text class="t r" x="45.5" y="9.2">(CEST_NAME)</text><rect class="band" y="11" width="47" height="4"/></g>
<g id="n_fa6" transform="translate(189,698)"><rect class="sh" x="1.5" y="1.5" width="32" height="11"/><rect class="bx" width="32" height="11"/><text class="t" x="1.5" y="4.5">«Test Class CO...</text><text class="t r" x="30.5" y="9.2">(CELT...</text></g>
<g id="n_fb6" transform="translate(189,723)"><rect class="sh" x="1.5" y="1.5" width="32" height="11"/><rect class="bx" width="32" height="11"/><text class="t" x="1.5" y="4.5">«Test Class CO...</text><text class="t r" x="30.5" y="9.2">(CELT...</text></g>
<g id="n_f7" transform="translate(232,704)"><rect class="sh" x="1.5" y="1.5" width="52" height="31"/><rect class="bx" width="52" height="31"/><text class="t" x="1.5" y="4.5">...ami IDI_SERR_FML 7</text><text class="t r" x="50.5" y="9.2">(CEST_NAME)</text><line class="sep" x1="0" y1="11" x2="52" y2="11"/><text class="t a" x="1" y="15">TestIDParams...</text><text class="t a r" x="51" y="15">(CUREF)</text><text class="t a" x="1" y="19.5">TestIDParams...</text><text class="t a r" x="51" y="19.5">(CUREF)</text><line class="sep" x1="0" y1="20.8" x2="52" y2="20.8"/></g>
<g id="n_fa7" transform="translate(303,696)"><rect class="sh" x="1.5" y="1.5" width="34" height="13"/><rect class="bx" width="34" height="13"/><text class="t" x="1.5" y="4.5">...Class CBeSide3</text><text class="t r" x="32.5" y="9.2">(CELT...</text><rect class="band" y="11" width="34" height="2"/></g>
<g id="n_fb7" transform="translate(302,724)"><rect class="sh" x="1.5" y="1.5" width="37" height="16"/><rect class="bx" width="37" height="16"/><text class="t" x="1.5" y="4.5">«Test Class CBe...</text><text class="t r" x="35.5" y="9.2">(CELT...</text><line class="sep" x1="0" y1="11" x2="37" y2="11"/><text class="t a" x="1" y="15">TestIDParams...</text><text class="t a r" x="36" y="15">(CE</text></g>
<g id="n_f8" transform="translate(344,703)"><rect class="sh" x="1.5" y="1.5" width="51" height="24"/><rect class="bx" width="51" height="24"/><text class="t" x="1.5" y="4.5">...ami IDI_SERR_FML 8</text><text class="t r" x="49.5" y="9.2">(CEST_NAME)</text><rect class="band" y="11" width="51" height="4"/></g>
<g id="n_fa8" transform="translate(412,694)"><rect class="sh" x="1.5" y="1.5" width="36" height="13"/><rect class="bx" width="36" height="13"/><text class="t" x="1.5" y="4.5">...Class CBeSide3</text><text class="t r" x="34.5" y="9.2">(CELT...</text><rect class="band" y="11" width="36" height="2"/></g>
<g id="n_fb8" transform="translate(410,722)"><rect class="sh" x="1.5" y="1.5" width="45" height="18"/><rect class="bx" width="45" height="18"/><text class="t" x="1.5" y="4.5">«Test Class CBeSid...</text><text class="t r" x="43.5" y="9.2">(CST_SUBSTD)</text><rect class="band" y="11" width="45" height="4"/></g>

<g id="n_f9" transform="translate(12,769)"><rect class="sh" x="1.5" y="1.5" width="56" height="38"/><rect class="bx" width="56" height="38"/><text class="t" x="1.5" y="4.5">...IpplemI IDI_SERR_FML 9</text><text class="t r" x="54.5" y="9.2">(CEST_NAME)</text><line class="sep" x1="0" y1="11" x2="56" y2="11"/><text class="t a" x="1" y="15">TestIDParams:ini...</text><text class="t a r" x="55" y="15">(CUREF)</text><text class="t a" x="1" y="19.5">TestIDParams:ini...</text><text class="t a r" x="55" y="19.5">(CUREF)</text><line class="sep" x1="0" y1="20.8" x2="56" y2="20.8"/></g>
<g id="n_fa9" transform="translate(84,760)"><rect class="sh" x="1.5" y="1.5" width="38" height="13"/><rect class="bx" width="38" height="13"/><text class="t" x="1.5" y="4.5">...Class CBeSide3</text><text class="t r" x="36.5" y="9.2">(CELT...</text><rect class="band" y="11" width="38" height="2"/></g>
<g id="n_fb9" transform="translate(86,805)"><rect class="sh" x="1.5" y="1.5" width="33" height="13"/><rect class="bx" width="33" height="13"/><text class="t" x="1.5" y="4.5">...Class CBeSide1</text><text class="t r" x="31.5" y="9.2">(CSH</text><rect class="band" y="11" width="33" height="2"/></g>
<g id="n_f10" transform="translate(133,769)"><rect class="sh" x="1.5" y="1.5" width="57" height="32"/><rect class="bx" width="57" height="32"/><text class="t" x="1.5" y="4.5">...IpplemI IDI_SERR_FML 10</text><text class="t r" x="55.5" y="9.2">(CEST_NAME)</text><rect class="band" y="11" width="57" height="4"/></g>
<g id="n_fa10" transform="translate(206,747)"><rect class="sh" x="1.5" y="1.5" width="32" height="15"/><rect class="bx" width="32" height="15"/><text class="t" x="1.5" y="4.5">...Class CBeSide3</text><text class="t r" x="30.5" y="9.2">(CSH...</text><rect class="band" y="11" width="32" height="4"/></g>
<g id="n_fb10" transform="translate(204,797)"><rect class="sh" x="1.5" y="1.5" width="44" height="25"/><rect class="bx" width="44" height="25"/><text class="t" x="1.5" y="4.5">...Test Class CBeSide</text><text class="t r" x="42.5" y="9.2">(CEST_SUBST...</text><rect class="band" y="11" width="44" height="4"/></g>
</svg>
